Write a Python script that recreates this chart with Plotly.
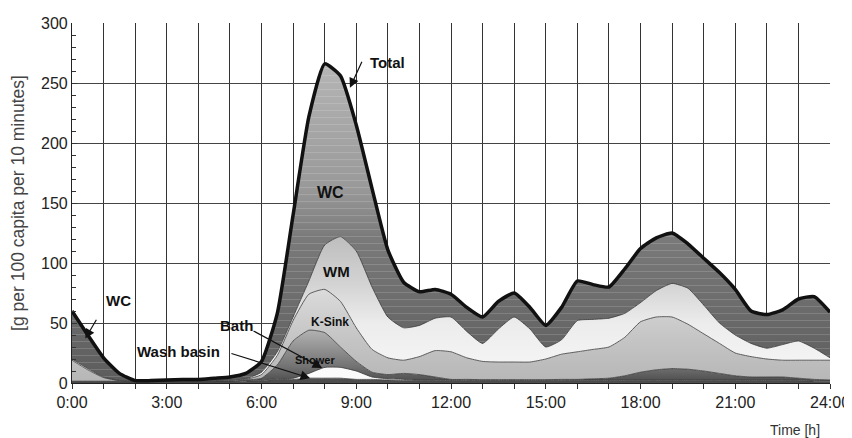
import plotly.graph_objects as go

hours = [0, 0.5, 1, 1.5, 2, 2.5, 3, 3.5, 4, 4.5, 5, 5.5, 6, 6.5, 7, 7.5, 8, 8.5, 9, 9.5,
         10, 10.5, 11, 11.5, 12, 12.5, 13, 13.5, 14, 14.5, 15, 15.5, 16, 16.5, 17, 17.5,
         18, 18.5, 19, 19.5, 20, 20.5, 21, 21.5, 22, 22.5, 23, 23.5, 24]

# cumulative (stacked) boundaries
wash_top = [1, 1, 1, 1, 1, 1, 1, 1, 1, 1, 1, 1.5, 2, 3, 3, 4, 4, 4, 3, 3,
            2.5, 2, 2, 2, 2, 2, 2, 2, 2, 2, 2, 2, 2, 2, 2, 2,
            2, 2, 2, 2, 2, 2, 2, 2, 2, 2, 2, 1.5, 1.5]
bath_top = [1.2, 1.2, 1.2, 1.2, 1.2, 1.2, 1.2, 1.2, 1.2, 1.2, 1.2, 2, 2.5, 3.5, 4, 8, 13, 13, 10, 5,
            3.5, 3, 2.5, 2.5, 2.5, 2.5, 2.5, 2.5, 2.5, 2.5, 2.5, 2.5, 2.5, 2.5, 2.5, 2.5,
            2.5, 2.5, 2.5, 2.5, 2.5, 2.5, 2.5, 2.5, 2.5, 2.5, 2.5, 2, 2]
shower_top = [1.5, 1.5, 1.5, 1.5, 1.5, 1.5, 1.5, 1.5, 1.5, 1.5, 1.6, 2.5, 4, 15, 35, 44, 42, 30, 18, 9,
              7, 8, 7, 5, 3, 3, 2.8, 2.8, 2.8, 2.8, 2.8, 3, 3, 3.5, 4, 6,
              9, 11, 12, 11.5, 10, 8, 6, 5, 5, 5, 4, 3, 2.5]
ksink_top = [19, 11, 4.5, 2, 1.6, 1.6, 1.6, 1.6, 1.6, 1.7, 2, 3, 7, 23, 52, 74, 78, 68, 46, 28,
             21, 19, 22, 27, 26, 21, 18, 17.5, 17.5, 17.5, 20, 24, 26, 28, 30, 38,
             51, 55, 55, 49, 41, 33, 25, 22, 20, 19, 19, 19, 19]
wm_top = [20, 12, 5, 2.2, 1.8, 1.8, 1.8, 1.8, 1.8, 2, 2.5, 3.5, 9, 26, 55, 85, 115, 122, 110, 80,
          55, 46, 48, 54, 55, 43, 33, 45, 55, 45, 30, 36, 52, 53, 54, 58,
          67, 77, 83, 79, 65, 50, 40, 33, 29, 32, 35, 29, 21]
total_top = [60, 40, 21, 8, 2, 2, 2.5, 3, 3, 4, 5, 8, 18, 58, 140, 222, 266, 256, 215, 162,
             111, 84, 76, 78, 74, 63, 55, 68, 75, 63, 48, 63, 85, 82, 80, 95,
             112, 121, 125, 116, 104, 92, 78, 60, 57, 61, 70, 72, 59]

tick_hours = [0, 3, 6, 9, 12, 15, 18, 21, 24]
tick_labels = ["0:00", "3:00", "6:00", "9:00", "12:00", "15:00", "18:00", "21:00", "24:00"]

FONT = "Liberation Sans, Arial, sans-serif"
fig = go.Figure()

SM = 0.5
edge = dict(color="#3a3a3a", width=0.8, shape="spline", smoothing=SM)


def band(y, fill, **kw):
    fig.add_trace(go.Scatter(x=hours, y=y, mode="lines", line=edge, fill=fill,
                             hoverinfo="skip", showlegend=False, **kw))


band(wash_top, "tozeroy", fillcolor="#4e4e4e")
band(bath_top, "tonexty", fillcolor="#fbfbfb")
band(shower_top, "tonexty",
     fillgradient=dict(type="vertical", start=0, stop=45,
                       colorscale=[[0, "#4a4a4a"], [0.3, "#727272"], [1, "#b4b4b4"]]))
band(ksink_top, "tonexty",
     fillgradient=dict(type="vertical", start=0, stop=80,
                       colorscale=[[0, "#b6b6b6"], [0.5, "#c6c6c6"], [1, "#dcdcdc"]]))
band(wm_top, "tonexty",
     fillgradient=dict(type="vertical", start=0, stop=125,
                       colorscale=[[0, "#f8f8f8"], [0.4, "#ececec"], [0.65, "#d4d4d4"], [1, "#bcbcbc"]]))
band(total_top, "tonexty",
     fillgradient=dict(type="vertical", start=0, stop=270,
                       colorscale=[[0, "#5c5c5c"], [0.45, "#7a7a7a"], [0.6, "#999999"], [1, "#b6b6b6"]]))
# faint horizontal striping of the WC band
fig.add_trace(go.Scatter(x=hours, y=wm_top, mode="lines", line=dict(width=0, shape="spline", smoothing=SM),
                         hoverinfo="skip", showlegend=False))
fig.add_trace(go.Scatter(x=hours, y=total_top, mode="lines", line=dict(width=0, shape="spline", smoothing=SM),
                         fill="tonexty", fillcolor="rgba(0,0,0,0)",
                         fillpattern=dict(shape="-", size=7, solidity=0.12,
                                          fgcolor="rgba(255,255,255,0.35)", bgcolor="rgba(0,0,0,0)"),
                         hoverinfo="skip", showlegend=False))
# total line
fig.add_trace(go.Scatter(x=hours, y=total_top, mode="lines",
                         line=dict(color="#111111", width=3.5, shape="spline", smoothing=SM),
                         hoverinfo="skip", showlegend=False))

ann = []


def label(x, y, text, size=14):
    ann.append(dict(x=x, y=y, text="<b>%s</b>" % text, showarrow=False,
                    font=dict(family=FONT, size=size, color="#111111")))


def arrow(x, y, ax, ay, head=2):
    ann.append(dict(x=x, y=y, ax=ax, ay=ay, xref="x", yref="y", axref="x", ayref="y",
                    text="", showarrow=True, arrowhead=head, arrowsize=1.6,
                    arrowwidth=1.2, arrowcolor="#111111"))


label(10.0, 267, "Total", 15)
arrow(8.8, 246, 9.2, 269)
label(8.17, 159, "WC", 16)
label(8.39, 93, "WM", 15)
label(8.17, 51, "K-Sink", 12)
label(7.7, 19, "Shower", 11)
label(1.46, 69, "WC", 15)
arrow(0.42, 37, 0.8, 54)
label(5.2, 48, "Bath", 15)
arrow(7.92, 12.5, 5.7, 44)
label(3.36, 26, "Wash basin", 15)
arrow(7.54, 4, 5.0, 25)

ann.append(dict(x=22.9, y=-0.13, xref="x", yref="paper", text="Time [h]", showarrow=False,
                xanchor="center", yanchor="middle",
                font=dict(family=FONT, size=14, color="#333333")))

# the page adds an 8px body margin, so the figure is sized to fit the 852x438 window
fig.update_layout(
    width=844, height=430,
    margin=dict(l=64, r=22, t=15, b=55),
    paper_bgcolor="white", plot_bgcolor="white",
    font=dict(family=FONT, size=15, color="#222222"),
    annotations=ann,
)
fig.update_xaxes(range=[0, 24], tickvals=tick_hours, ticktext=tick_labels, automargin=False,
                 showgrid=True, gridcolor="#333333", gridwidth=1,
                 ticks="outside", ticklen=5, tickcolor="#333333",
                 minor=dict(dtick=1, tick0=0, showgrid=True, gridcolor="#333333", gridwidth=1,
                            ticks="outside", ticklen=5, tickcolor="#333333"),
                 showline=True, linecolor="#222222", linewidth=1.2, zeroline=False,
                 tickfont=dict(size=16))
fig.update_yaxes(range=[0, 300], dtick=50, showgrid=True, gridcolor="#444444", gridwidth=1,
                 automargin=False, ticks="inside", ticklen=5, tickcolor="#333333",
                 minor=dict(dtick=10, ticks="inside", ticklen=4, tickcolor="#333333", showgrid=False),
                 showline=True, linecolor="#222222", linewidth=1.2, zeroline=False,
                 tickfont=dict(size=16),
                 title=dict(text="[g per 100 capita per 10 minutes]", standoff=12,
                            font=dict(size=17.5, color="#444444")))

fig.write_html("out.html")
